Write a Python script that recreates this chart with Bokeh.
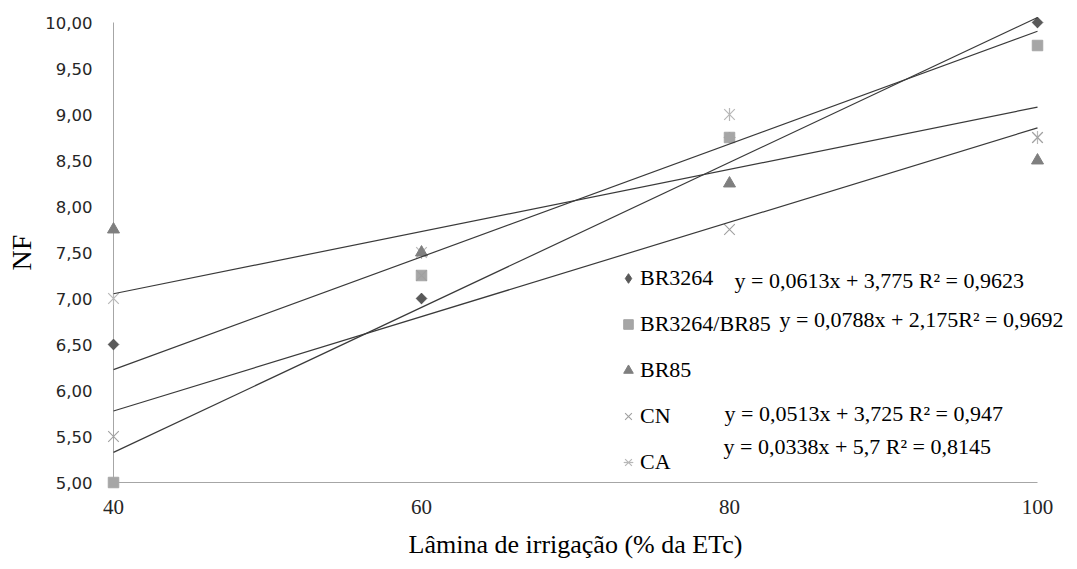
import math
from bokeh.plotting import figure
from bokeh.models import Range1d, FixedTicker, Legend, LegendItem, ColumnDataSource
from bokeh.core.properties import value
from bokeh.embed import file_html
from bokeh.resources import INLINE

# ---------------- data ----------------
x_levels = [40, 60, 80, 100]
series_names = ["BR3264", "BR3264/BR85", "BR85", "CN", "CA"]
br3264 = [6.5, 7.0, 8.75, 10.0]
br3264_br85 = [5.0, 7.25, 8.75, 9.75]
br85 = [7.75, 7.5, 8.25, 8.5]
cn = [5.5, 7.25, 7.75, 8.75]
ca = [7.0, 7.5, 9.0, 8.75]

# linear trendlines shown in the chart (slope, intercept)
trend_series = ["BR3264", "BR3264/BR85", "CN", "CA"]
trend_slope = [0.0613, 0.0788, 0.0513, 0.0338]
trend_intercept = [3.775, 2.175, 3.725, 5.7]
trend_equations = [
    "y = 0,0613x + 3,775 R² = 0,9623",
    "y = 0,0788x + 2,175R² = 0,9692",
    "y = 0,0513x + 3,725 R² = 0,947",
    "y = 0,0338x + 5,7 R² = 0,8145",
]

x_ticks = [40, 60, 80, 100]
x_tick_labels = ["40", "60", "80", "100"]
y_ticks = [5.0, 5.5, 6.0, 6.5, 7.0, 7.5, 8.0, 8.5, 9.0, 9.5, 10.0]
y_tick_labels = ["5,00", "5,50", "6,00", "6,50", "7,00", "7,50",
                 "8,00", "8,50", "9,00", "9,50", "10,00"]
x_title = "Lâmina de irrigação (% da ETc)"
y_title = "NF"

# ---------------- layout ----------------
W, H = 1077, 569
FL, FT, FW, FH = 113, 22, 924, 460
FB = FT + FH
PX_X = FW / (x_ticks[-1] - x_ticks[0])   # pixels per x unit
PX_Y = FH / (y_ticks[-1] - y_ticks[0])   # pixels per y unit


def sx(px):
    return px - FL


def sy(py):
    return FB - py


def dx(px):
    return x_ticks[0] + (px - FL) / PX_X


def dy(py):
    return y_ticks[0] + (FB - py) / PX_Y


p = figure(frame_width=FW, frame_height=FH,
           min_border_left=FL, min_border_top=FT,
           min_border_right=W - FL - FW, min_border_bottom=H - FB,
           x_range=Range1d(x_ticks[0], x_ticks[-1]),
           y_range=Range1d(y_ticks[0], y_ticks[-1]),
           output_backend="svg", toolbar_location=None)
p.xgrid.visible = False
p.ygrid.visible = False
p.outline_line_color = None
p.background_fill_color = "white"
p.border_fill_color = "white"

AXIS_COLOR = "#a6a6a6"
TICK_COLOR = "#262626"
SERIF = "Liberation Serif"

xa = p.xaxis[0]
xa.ticker = FixedTicker(ticks=x_ticks)
xa.major_label_overrides = {t: l for t, l in zip(x_ticks, x_tick_labels)}
xa.major_tick_line_color = None
xa.minor_tick_line_color = None
xa.major_tick_out = 0
xa.major_tick_in = 0
xa.axis_line_color = AXIS_COLOR
xa.axis_line_width = 1
xa.major_label_standoff = 17
xa.major_label_text_font = "Liberation Sans Narrow"
xa.major_label_text_font_size = "21px"
xa.major_label_text_color = TICK_COLOR
xa.axis_label = x_title
xa.axis_label_standoff = 13
xa.axis_label_text_font = SERIF
xa.axis_label_text_font_style = "normal"
xa.axis_label_text_font_size = "26px"
xa.axis_label_text_color = "#000000"

ya = p.yaxis[0]
ya.ticker = FixedTicker(ticks=y_ticks)
ya.major_label_overrides = {t: l for t, l in zip(y_ticks, y_tick_labels)}
ya.major_tick_line_color = None
ya.minor_tick_line_color = None
ya.major_tick_out = 0
ya.major_tick_in = 0
ya.axis_line_color = AXIS_COLOR
ya.axis_line_width = 1
ya.major_label_standoff = 21
ya.major_label_text_font = "DejaVu Sans"
ya.major_label_text_font_size = "16.5px"
ya.major_label_text_color = TICK_COLOR
ya.axis_label = y_title
ya.axis_label_standoff = 5
ya.axis_label_text_font = SERIF
ya.axis_label_text_font_style = "normal"
ya.axis_label_text_font_size = "28px"
ya.axis_label_text_color = "#000000"

# ---------------- markers ----------------
C_BR3264 = "#595959"
C_MIX = "#a6a6a6"
C_BR85 = "#7f7f7f"
C_CN = "#a0a0a0"
C_CA = "#b8b8b8"
LVL = "overlay"   # drawn without frame clipping so edge markers stay whole

r_ca_x = p.scatter(x_levels, ca, marker="x", size=15, line_color=C_CA,
                   line_width=1.2, level=LVL)
r_ca_v = p.scatter(x_levels, ca, marker="dash", angle=math.pi / 2, size=13,
                   line_color=C_CA, line_width=1.2, level=LVL)
r1 = p.scatter(x_levels, br3264, marker="diamond", size=10.5,
               fill_color=C_BR3264, line_color=C_BR3264, level=LVL)
r1b = p.scatter(x_levels, br3264, marker="square", angle=math.pi / 4, size=7.5,
                fill_color=C_BR3264, line_color=C_BR3264, level=LVL)
r2 = p.scatter(x_levels, br3264_br85, marker="square", size=10.5,
               fill_color=C_MIX, line_color=C_MIX, level=LVL)
r3 = p.scatter(x_levels, br85, marker="triangle", size=12,
               fill_color=C_BR85, line_color=C_BR85, level=LVL)
r4 = p.scatter(x_levels, cn, marker="x", size=15, line_color=C_CN,
               line_width=1.1, level=LVL)

# ---------------- trendlines ----------------
for s, b in zip(trend_slope, trend_intercept):
    xs = [x_levels[0], x_levels[-1]]
    ys = [s * x + b for x in xs]
    p.line(xs, ys, line_color="#3a3a3a", line_width=1.2, level=LVL)

# ---------------- legend ----------------
items = [
    LegendItem(label=series_names[0], renderers=[r1]),
    LegendItem(label=series_names[1], renderers=[r2]),
    LegendItem(label=series_names[2], renderers=[r3]),
    LegendItem(label=series_names[3], renderers=[r4]),
    LegendItem(label=series_names[4], renderers=[r_ca_x, r_ca_v]),
]
legend = Legend(items=items, location=(sx(616), sy(475)),
                padding=0, margin=0, spacing=20,
                glyph_width=24, glyph_height=24, label_height=20,
                label_standoff=0,
                label_text_font=SERIF, label_text_font_size="22px",
                label_text_color="#000000",
                border_line_alpha=0, background_fill_alpha=0)
p.add_layout(legend)

# equation texts (page-pixel anchor of each, converted through the scales)
eq_px = [(734, 280), (779, 319), (724, 413), (723, 446)]
eq_src = ColumnDataSource(dict(
    x=[dx(a) for a, _ in eq_px],
    y=[dy(b) for _, b in eq_px],
    text=trend_equations,
))
p.text(x="x", y="y", text="text", source=eq_src,
       text_font=value(SERIF), text_font_size=value("22px"),
       text_color="#000000", text_align="left", text_baseline="middle",
       level=LVL)

open("out.html", "w").write(file_html(p, INLINE))
